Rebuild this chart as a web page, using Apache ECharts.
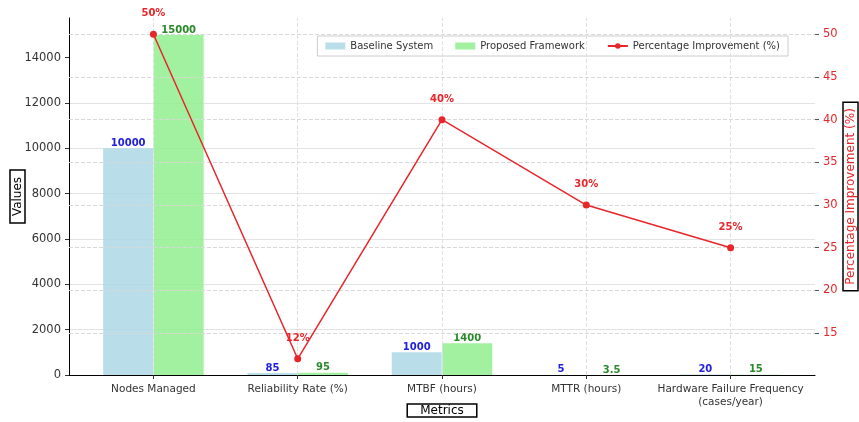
<!DOCTYPE html>
<html>
<head>
<meta charset="utf-8">
<script src="https://cdn.jsdelivr.net/npm/echarts@6/dist/echarts.min.js"></script>
<style>
  html, body { margin: 0; padding: 0; background: #fff; }
  #chart { width: 859px; height: 422px; }
</style>
</head>
<body>
<div id="chart"></div>
<script>
// data
var categories = ['Nodes Managed', 'Reliability Rate (%)', 'MTBF (hours)', 'MTTR (hours)', 'Hardware Failure Frequency\n(cases/year)'];
var baseline = [10000, 85, 1000, 5, 20];
var proposed = [15000, 95, 1400, 3.5, 15];
var improvement = [50, 12, 40, 30, 25];
var valueTicks = [0, 2000, 4000, 6000, 8000, 10000, 12000, 14000];
var pctTicks = [15, 20, 25, 30, 35, 40, 45, 50];
var catIdx = [0, 1, 2, 3, 4];

var chart = echarts.init(document.getElementById('chart'));
var font = 'DejaVu Sans';
var half = 0.175; // half of bar width in category units

function barData(vals, shift) {
    return vals.map(function (v, i) { return [i + shift, v]; });
}

var option = {
    animation: false,
    textStyle: { fontFamily: font },
    grid: { left: 69, right: 44, top: 18, bottom: 47, containLabel: false, outerBoundsMode: 'none' },
    legend: {
        right: 71,
        top: 36,
        padding: [5, 8],
        itemGap: 22,
        itemWidth: 20,
        itemHeight: 7,
        borderColor: '#ccc',
        borderWidth: 1,
        textStyle: { fontSize: 10, color: '#333', fontFamily: font },
        data: [
            { name: 'Baseline System', icon: 'rect' },
            { name: 'Proposed Framework', icon: 'rect' },
            { name: 'Percentage Improvement (%)' }
        ]
    },
    xAxis: {
        type: 'value',
        min: -0.585,
        max: 4.585,
        name: 'Metrics',
        nameLocation: 'middle',
        nameGap: 29,
        nameMoveOverlap: false,
        nameTextStyle: {
            fontSize: 12, color: '#000', borderColor: '#000', borderWidth: 1.5,
            padding: [1, 13, 0, 13]
        },
        axisLine: { show: true, onZero: false, lineStyle: { color: '#000', width: 1 } },
        axisTick: { show: true, customValues: catIdx, length: 4, lineStyle: { color: '#333' } },
        axisLabel: {
            customValues: catIdx,
            fontSize: 10.5,
            color: '#333',
            lineHeight: 13,
            formatter: function (v) { return categories[Math.round(v)]; }
        },
        splitLine: { show: false }
    },
    yAxis: [
        {
            type: 'value',
            min: 0,
            max: 15750,
            interval: 2000,
            name: 'Values',
            nameLocation: 'middle',
            nameGap: 44,
            nameMoveOverlap: false,
            nameRotate: 90,
            nameTextStyle: {
                fontSize: 12, color: '#000', borderColor: '#000', borderWidth: 1.5,
                padding: [2, 7, 1, 7]
            },
            axisLine: { show: true, onZero: false, lineStyle: { color: '#000', width: 1 } },
            axisTick: { show: true, customValues: valueTicks, length: 4, lineStyle: { color: '#333' } },
            axisLabel: {
                customValues: valueTicks, fontSize: 11.5, color: '#333',
                formatter: function (v) { return String(v); }
            },
            splitLine: { show: true, showMaxLine: false, lineStyle: { color: '#e3e3e3', width: 1 } }
        },
        {
            type: 'value',
            min: 10.1,
            max: 51.9,
            position: 'right',
            name: 'Percentage Improvement (%)',
            nameLocation: 'middle',
            nameGap: 28,
            nameMoveOverlap: false,
            nameRotate: 90,
            nameTextStyle: {
                fontSize: 12, color: '#e8262a', borderColor: '#000', borderWidth: 1.5,
                padding: [2, 6, 1, 6]
            },
            axisLine: { show: false, onZero: false },
            axisTick: { show: true, customValues: pctTicks, length: 4, lineStyle: { color: '#555' } },
            axisLabel: { customValues: pctTicks, fontSize: 11.5, color: '#e8262a' },
            splitLine: { show: false }
        }
    ],
    series: [
        {
            name: 'Baseline System',
            type: 'bar',
            barWidth: 50,
            barGap: '-100%',
            data: barData(baseline, -half),
            itemStyle: { color: 'rgba(173,216,230,0.85)' },
            label: {
                show: true, position: 'top', distance: 0, lineHeight: 10,
                color: '#2020dd', fontWeight: 'bold', fontSize: 10,
                formatter: function (p) { return p.value[1]; }
            },
            markLine: {
                silent: true,
                symbol: 'none',
                label: { show: false },
                lineStyle: { color: '#e0e0e0', type: 'dashed', width: 1 },
                emphasis: { disabled: true },
                data: catIdx.map(function (i) { return { xAxis: i }; })
            }
        },
        {
            name: 'Proposed Framework',
            type: 'bar',
            barWidth: 50,
            barGap: '-100%',
            data: barData(proposed, half),
            itemStyle: { color: 'rgba(144,238,144,0.85)' },
            label: {
                show: true, position: 'top', distance: 0, lineHeight: 10,
                color: '#2a8a2a', fontWeight: 'bold', fontSize: 10,
                formatter: function (p) { return p.value[1]; }
            }
        },
        {
            name: 'Percentage Improvement (%)',
            type: 'line',
            yAxisIndex: 1,
            data: improvement.map(function (v, i) { return [i, v]; }),
            symbol: 'circle',
            symbolSize: 7,
            z: 5,
            itemStyle: { color: '#e8262a', borderWidth: 0 },
            lineStyle: { color: '#e8262a', width: 1.5 },
            label: {
                show: true, position: 'top', distance: 12,
                color: '#e8262a', fontWeight: 'bold', fontSize: 10,
                formatter: function (p) { return p.value[1] + '%'; }
            },
            markLine: {
                silent: true,
                symbol: 'none',
                label: { show: false },
                lineStyle: { color: '#d8d8d8', type: 'dashed', width: 1 },
                emphasis: { disabled: true },
                data: pctTicks.map(function (t) { return { yAxis: t }; })
            }
        }
    ]
};

chart.setOption(option);
</script>
</body>
</html>
